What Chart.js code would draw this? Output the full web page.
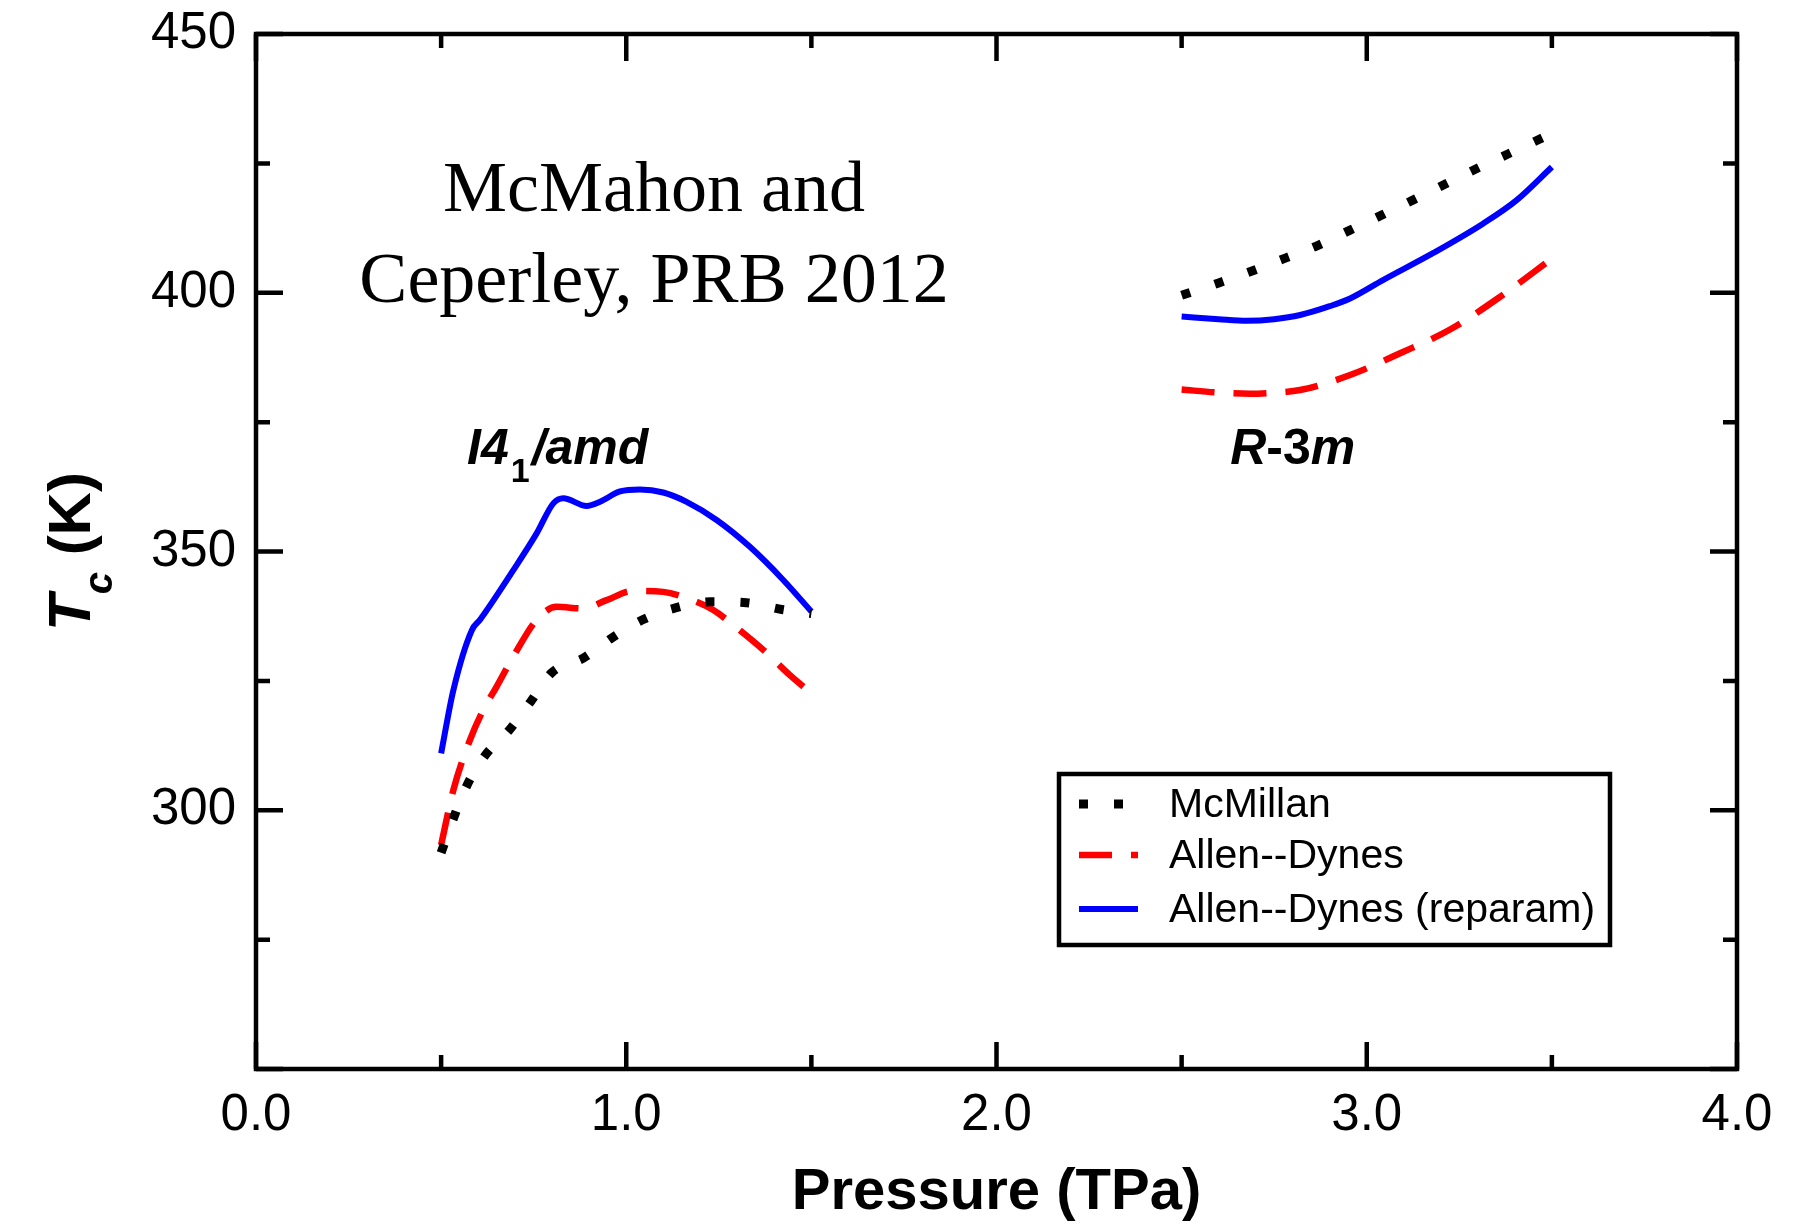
<!DOCTYPE html>
<html>
<head>
<meta charset="utf-8">
<script src="https://cdn.jsdelivr.net/npm/chart.js@4.4.0/dist/chart.umd.min.js"></script>
<style>
  body { margin: 0; background: #fff; }
</style>
</head>
<body>
<canvas id="tc-chart" width="1793" height="1224"></canvas>
<script>
// I4_1/amd phase
var i41P_mcm = [0.50, 0.533, 0.569, 0.618, 0.684, 0.742, 0.799, 0.884, 0.961, 1.044, 1.133, 1.228, 1.325, 1.420, 1.50];
var i41Tc_mcm = [291.8, 298.4, 304.7, 310.5, 315.5, 321.0, 326.6, 329.4, 333.3, 336.8, 339.1, 340.3, 340.1, 338.8, 338.0];
var i41P_ad = [0.50, 0.533, 0.578, 0.614, 0.650, 0.695, 0.758, 0.812, 0.884, 0.947, 1.019, 1.100, 1.163, 1.235, 1.289, 1.370, 1.442, 1.50];
var i41Tc_ad = [293.3, 303.9, 313.6, 319.4, 323.9, 329.7, 336.8, 339.3, 339.0, 340.6, 342.4, 342.2, 341.0, 338.7, 335.8, 331.0, 326.1, 322.6];
var i41P_adr = [0.50, 0.533, 0.583, 0.605, 0.695, 0.758, 0.803, 0.830, 0.893, 0.929, 0.983, 1.037, 1.100, 1.163, 1.244, 1.334, 1.424, 1.50];
var i41Tc_adr = [311.0, 323.2, 334.8, 336.8, 346.4, 353.5, 359.3, 360.3, 358.8, 359.6, 361.6, 362.0, 361.4, 359.6, 356.1, 350.9, 344.5, 338.4];

// R-3m phase
var r3mP_mcm = [2.50, 2.60, 2.69, 2.78, 2.87, 2.955, 3.04, 3.13, 3.215, 3.30, 3.39, 3.50];
var r3mTc_mcm = [399.5, 401.9, 404.2, 406.7, 409.2, 412.1, 415.0, 418.1, 421.1, 424.1, 427.1, 430.8];
var r3mP_ad = [2.50, 2.60, 2.685, 2.75, 2.82, 2.955, 3.09, 3.225, 3.36, 3.50];
var r3mTc_ad = [381.3, 380.7, 380.5, 380.7, 381.2, 384.1, 388.3, 392.9, 399.2, 406.6];
var r3mP_adr = [2.50, 2.60, 2.676, 2.75, 2.82, 2.90, 2.955, 3.045, 3.18, 3.315, 3.405, 3.50];
var r3mTc_adr = [395.4, 394.9, 394.6, 394.9, 395.7, 397.4, 398.9, 402.5, 407.7, 413.4, 417.9, 424.3];

var seriesNames = ["McMillan", "Allen--Dynes", "Allen--Dynes (reparam)"];
var xTicks = [0.0, 1.0, 2.0, 3.0, 4.0];
var yTicks = [300, 350, 400, 450];

function pts(xs, ys) {
    return xs.map(function (x, i) { return { x: x, y: ys[i] }; });
}

var styles = [
    { borderColor: "#000000", borderWidth: 9, borderDash: [9, 26] },
    { borderColor: "#ff0000", borderWidth: 6.5, borderDash: [33, 19] },
    { borderColor: "#0000ff", borderWidth: 6, borderDash: [] }
];

function ds(label, data, st) {
    return {
        label: label,
        data: data,
        borderColor: st.borderColor,
        borderWidth: st.borderWidth,
        borderDash: st.borderDash,
        borderCapStyle: "butt",
        pointRadius: 0,
        fill: false,
        cubicInterpolationMode: "monotone"
    };
}

var SANS = "'Liberation Sans', Arial, Helvetica, sans-serif";

// box around the plot with inward ticks on all four sides
var framePlugin = {
    id: "frame",
    afterDraw: function (chart) {
        var ctx = chart.ctx, a = chart.chartArea;
        var xs = chart.scales.x, ys = chart.scales.y;
        ctx.save();
        ctx.strokeStyle = "#000";
        ctx.lineWidth = 4.5;
        ctx.lineCap = "square";
        ctx.strokeRect(a.left, a.top, a.right - a.left, a.bottom - a.top);
        ctx.lineCap = "butt";
        xs.ticks.forEach(function (t) {
            var px = xs.getPixelForValue(t.value);
            var len = Math.abs(t.value % 1) < 1e-9 ? 27 : 14;
            ctx.beginPath();
            ctx.moveTo(px, a.bottom); ctx.lineTo(px, a.bottom - len);
            ctx.moveTo(px, a.top); ctx.lineTo(px, a.top + len);
            ctx.stroke();
        });
        ys.ticks.forEach(function (t) {
            var py = ys.getPixelForValue(t.value);
            var len = t.value % 50 === 0 ? 27 : 14;
            ctx.beginPath();
            ctx.moveTo(a.left, py); ctx.lineTo(a.left + len, py);
            ctx.moveTo(a.right, py); ctx.lineTo(a.right - len, py);
            ctx.stroke();
        });
        ctx.restore();
    }
};

// y title with subscript, phase labels, citation and legend
var textPlugin = {
    id: "texts",
    afterDraw: function (chart) {
        var ctx = chart.ctx, a = chart.chartArea;
        var xs = chart.scales.x, ys = chart.scales.y;
        ctx.save();
        ctx.fillStyle = "#000";
        ctx.textBaseline = "alphabetic";
        ctx.textAlign = "left";

        // T_c (K)
        var fT = "italic bold 60px " + SANS, fc = "italic bold 40px " + SANS, fK = "bold 60px " + SANS;
        ctx.font = fT; var wT = ctx.measureText("T").width;
        ctx.font = fc; var wc = ctx.measureText("c").width;
        ctx.font = fK; var wK = ctx.measureText(" (K)").width;
        var tot = wT + wc + wK;
        ctx.save();
        ctx.translate(90, (a.top + a.bottom) / 2);
        ctx.rotate(-Math.PI / 2);
        var x0 = -tot / 2;
        ctx.font = fT; ctx.fillText("T", x0, 0);
        ctx.font = fc; ctx.fillText("c", x0 + wT, 22);
        ctx.font = fK; ctx.fillText(" (K)", x0 + wT + wc, 0);
        ctx.restore();

        // citation
        ctx.font = "72px 'Liberation Serif', 'Times New Roman', serif";
        ctx.textAlign = "center";
        var cx = xs.getPixelForValue(1.075);
        ctx.fillText("McMahon and", cx, ys.getPixelForValue(415.8));
        ctx.fillText("Ceperley, PRB 2012", cx, ys.getPixelForValue(398.3));
        ctx.textAlign = "left";

        // I4_1/amd
        var by = ys.getPixelForValue(367);
        var bx = xs.getPixelForValue(0.57);
        ctx.font = "italic bold 50px " + SANS;
        ctx.fillText("I4", bx, by); bx += ctx.measureText("I4").width + 2;
        ctx.font = "bold 34px " + SANS;
        ctx.fillText("1", bx, by + 18); bx += ctx.measureText("1").width + 2;
        ctx.font = "italic bold 50px " + SANS;
        ctx.fillText("/amd", bx, by);

        // R-3m
        bx = xs.getPixelForValue(2.631);
        ctx.font = "italic bold 50px " + SANS;
        ctx.fillText("R", bx, by); bx += ctx.measureText("R").width;
        ctx.font = "bold 50px " + SANS;
        ctx.fillText("-3", bx, by); bx += ctx.measureText("-3").width;
        ctx.font = "italic bold 50px " + SANS;
        ctx.fillText("m", bx, by);

        // legend
        var lr = a.right - 127, lb = a.bottom - 124;
        var lw = 551, lh = 171;
        var ll = lr - lw, lt = lb - lh;
        ctx.fillStyle = "#fff";
        ctx.fillRect(ll, lt, lw, lh);
        ctx.strokeStyle = "#000";
        ctx.lineWidth = 4.5;
        ctx.strokeRect(ll, lt, lw, lh);
        var rows = [30, 81, 135];
        ctx.font = "41px " + SANS;
        ctx.textBaseline = "middle";
        seriesNames.forEach(function (name, i) {
            var st = styles[i];
            var yy = lt + rows[i];
            ctx.save();
            ctx.strokeStyle = st.borderColor;
            ctx.lineWidth = st.borderWidth;
            ctx.lineCap = "butt";
            ctx.setLineDash(st.borderDash);
            ctx.beginPath();
            ctx.moveTo(ll + 20, yy); ctx.lineTo(ll + 79, yy);
            ctx.stroke();
            ctx.restore();
            ctx.fillStyle = "#000";
            ctx.fillText(name, ll + 110, yy + 2);
        });
        ctx.restore();
    }
};

new Chart(document.getElementById("tc-chart"), {
    type: "line",
    data: {
        datasets: [
            ds(seriesNames[0], pts(i41P_mcm, i41Tc_mcm), styles[0]),
            ds(seriesNames[0], pts(r3mP_mcm, r3mTc_mcm), styles[0]),
            ds(seriesNames[1], pts(i41P_ad, i41Tc_ad), styles[1]),
            ds(seriesNames[1], pts(r3mP_ad, r3mTc_ad), styles[1]),
            ds(seriesNames[2], pts(i41P_adr, i41Tc_adr), styles[2]),
            ds(seriesNames[2], pts(r3mP_adr, r3mTc_adr), styles[2])
        ]
    },
    options: {
        responsive: false,
        animation: false,
        devicePixelRatio: 1,
        layout: { padding: { top: 34, right: 56, left: 0, bottom: 0 } },
        plugins: {
            legend: { display: false },
            title: { display: false },
            tooltip: { enabled: false }
        },
        scales: {
            x: {
                type: "linear",
                min: 0,
                max: 4,
                grid: { display: false, drawTicks: false },
                border: { display: false },
                ticks: {
                    stepSize: 0.5,
                    autoSkip: false,
                    maxRotation: 0,
                    padding: 16,
                    color: "#000",
                    font: { family: SANS, size: 51 },
                    callback: function (v) {
                        return xTicks.indexOf(v) >= 0 ? v.toFixed(1) : "";
                    }
                },
                title: {
                    display: true,
                    text: "Pressure (TPa)",
                    color: "#000",
                    font: { family: SANS, size: 58, weight: "bold", lineHeight: 1.0 },
                    padding: { top: 4, bottom: 2 }
                },
                afterFit: function (s) {
                    s.height = 155;
                    s.paddingLeft = 0;
                    s.paddingRight = 0;
                }
            },
            y: {
                min: 250,
                max: 450,
                grid: { display: false, drawTicks: false },
                border: { display: false },
                ticks: {
                    stepSize: 25,
                    autoSkip: false,
                    padding: 20,
                    color: "#000",
                    font: { family: SANS, size: 51 },
                    callback: function (v) {
                        return yTicks.indexOf(v) >= 0 ? String(v) : "";
                    }
                },
                afterFit: function (s) {
                    s.width = 256;
                    s.paddingTop = 0;
                    s.paddingBottom = 0;
                }
            }
        }
    },
    plugins: [framePlugin, textPlugin]
});
</script>
</body>
</html>
